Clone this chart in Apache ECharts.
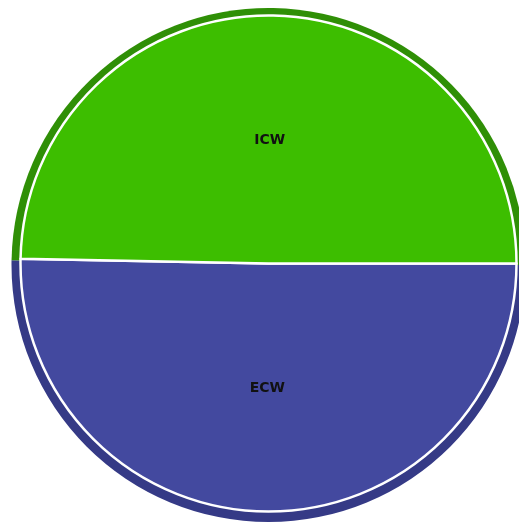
<!DOCTYPE html>
<html>
<head>
<meta charset="utf-8">
<script src="https://cdn.jsdelivr.net/npm/echarts@6/dist/echarts.min.js"></script>
<style>
  html, body { margin: 0; padding: 0; background: #fff; }
  #chart { width: 519px; height: 524px; }
</style>
</head>
<body>
<div id="chart"></div>
<script>
const categories = ['ECW', 'ICW']
const values = [50.3, 49.7]
const colors = ['#43499f', '#3dbe00']
const edgeColors = ['#353a86', '#2f8f06']
const labelShift = [-2, 4]

const chart = echarts.init(document.getElementById('chart'))

const rimData = categories.map((name, i) => ({ name, value: values[i] }))
const pieData = categories.map((name, i) => ({
  name,
  value: values[i],
  label: { offset: [0, labelShift[i]] }
}))

chart.setOption({
  animation: false,
  series: [
    {
      // darker rim behind the main pie
      type: 'pie',
      silent: true,
      center: [268.5, 265],
      radius: [0, 257],
      startAngle: 0,
      label: { show: false },
      labelLine: { show: false },
      itemStyle: {
        color: (p) => edgeColors[p.dataIndex],
        borderWidth: 0
      },
      data: rimData
    },
    {
      type: 'pie',
      center: [268.5, 263.5],
      radius: [0, 248],
      startAngle: 0,
      itemStyle: {
        color: (p) => colors[p.dataIndex],
        borderColor: '#ffffff',
        borderWidth: 2.5
      },
      label: {
        show: true,
        position: 'inside',
        formatter: '{b}',
        color: '#111',
        fontFamily: 'DejaVu Sans',
        fontWeight: 'bold',
        fontSize: 14
      },
      labelLine: { show: false },
      emphasis: { scale: false },
      data: pieData
    }
  ]
})
</script>
</body>
</html>
